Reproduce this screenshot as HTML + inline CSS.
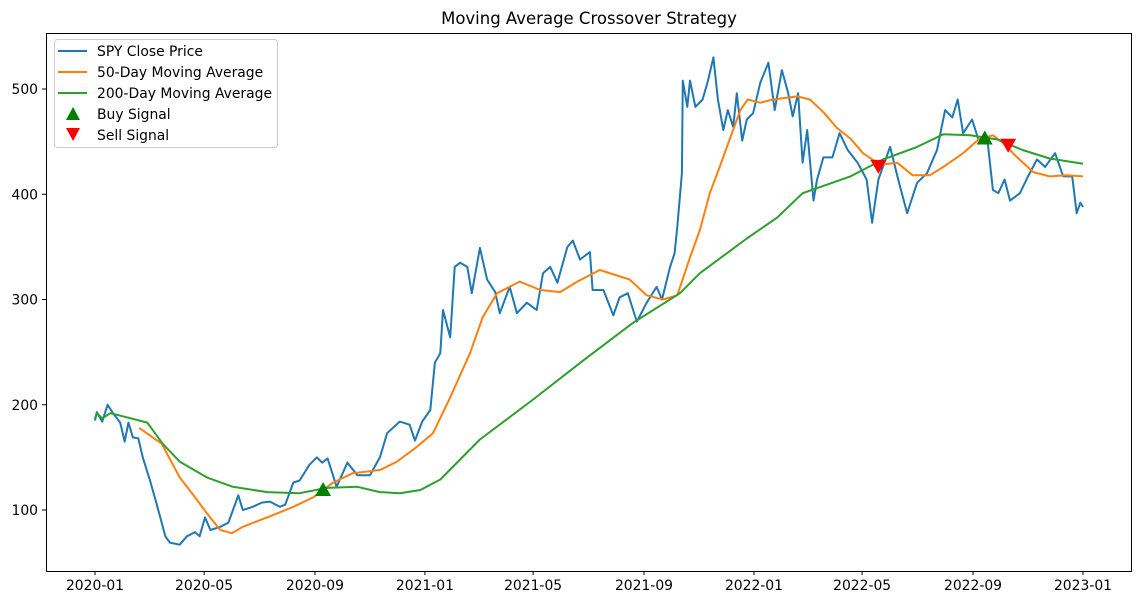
<!DOCTYPE html>
<html><head><meta charset="utf-8"><style>
body{margin:0;background:#fff;}
svg{display:block;font-family:"DejaVu Sans","Liberation Sans",sans-serif;}
</style></head><body>
<svg id="chart" width="1141" height="605" xmlns="http://www.w3.org/2000/svg">
<rect width="1141" height="605" fill="#fff"/>
<text x="589" y="24" font-size="16.5" text-anchor="middle">Moving Average Crossover Strategy</text>
<g id="plot"></g>
<rect x="46.5" y="33.5" width="1085" height="538" fill="none" stroke="#000" stroke-width="1"/>
<g id="axes"></g>
<g>
<rect x="54.5" y="39.5" width="223" height="108" rx="3" fill="#fff" fill-opacity="0.8" stroke="#ccc"/>
<g><line x1="58" y1="51" x2="87" y2="51" stroke="#1f77b4" stroke-width="2"/><text x="97" y="56" font-size="13.9">SPY Close Price</text></g>
<g><line x1="58" y1="72" x2="87" y2="72" stroke="#ff7f0e" stroke-width="2"/><text x="97" y="77" font-size="13.9">50-Day Moving Average</text></g>
<g><line x1="58" y1="93" x2="87" y2="93" stroke="#2ca02c" stroke-width="2"/><text x="97" y="98" font-size="13.9">200-Day Moving Average</text></g>
<g><polygon points="73,107 80,120 66,120" fill="#008000"/><text x="97" y="119" font-size="13.9">Buy Signal</text></g>
<g><polygon points="66,128 80,128 73,141" fill="#ff0000"/><text x="97" y="140" font-size="13.9">Sell Signal</text></g>
</g>
</svg>
<script>
const priceDays=[0,2,8,14,20,28,33,37,42,48,53,61,67,74,78,83,94,102,111,116,122,128,139,148,159,164,175,185,194,205,211,220,227,238,246,252,258,268,280,291,305,316,324,338,349,355,363,372,377,383,386,394,399,405,413,418,427,435,444,449,460,468,479,490,497,505,513,524,530,538,549,552,564,575,582,591,601,612,623,629,638,643,646,651,652,657,660,666,674,680,686,691,697,702,708,712,718,723,730,738,747,754,762,769,774,780,785,790,797,801,808,818,826,835,846,856,862,869,882,891,901,912,923,934,943,951,957,963,973,980,990,996,1002,1009,1015,1026,1035,1045,1054,1065,1074,1084,1089,1093,1096];
const priceValues=[185,193,184,200,192,183,165,183,169,168,150,128,110,88,75,69,67,75,79,75,93,81,84,88,114,100,103,107,108,103,105,126,128,143,150,145,149,122,145,133,133,150,173,184,181,166,184,195,240,249,290,264,331,335,331,306,349,319,307,287,312,287,297,290,325,331,316,350,356,338,345,309,309,285,302,306,279,297,312,300,331,344,369,420,508,483,508,483,490,508,530,490,461,480,464,496,451,471,477,506,525,480,518,496,474,496,430,461,394,414,435,435,458,442,430,414,373,414,445,414,382,411,420,442,480,473,490,458,471,452,452,404,401,414,394,401,417,433,426,439,417,417,382,392,388];
const ma50Days=[49,74,94,111,124,139,152,164,191,220,242,264,286,316,335,357,375,394,416,430,446,471,494,516,535,560,593,612,630,646,660,671,682,693,704,716,724,738,752,779,793,808,823,838,852,871,890,907,926,941,963,980,996,1007,1023,1041,1059,1078,1096];
const ma50Values=[178,163,131,112,97,81,78,84,93,103,112,126,135,138,146,160,173,207,249,283,306,317,309,307,317,328,319,304,300,304,340,366,401,426,452,480,490,487,490,493,490,478,463,453,439,428,430,418,418,426,439,452,456,449,435,421,417,418,417];
const ma200Days=[0,2,8,17,31,58,75,94,124,153,191,227,257,291,316,338,361,383,427,486,546,597,649,671,723,757,785,838,874,912,941,971,1001,1029,1059,1096];
const ma200Values=[187,192,187,192,189,183,163,146,131,122,117,116,121,122,117,116,119,129,167,205,245,278,306,325,358,378,401,417,433,445,457,456,452,442,434,429];
const buyDays=[253,987];
const buyValues=[119,453];
const sellDays=[869,1013];
const sellValues=[427,447];
const yTicks=[100,200,300,400,500];
const xTickLabels=["2020-01","2020-05","2020-09","2021-01","2021-05","2021-09","2022-01","2022-05","2022-09","2023-01"];
const xTickDays=[0,121,244,366,486,609,731,851,974,1096];

const NS="http://www.w3.org/2000/svg";
function xs(d){return 95+d*(988/1096);}
function ys(v){return 510-(v-100)*1.0525;}
function mk(tag,attrs,parent){const e=document.createElementNS(NS,tag);for(const k in attrs)e.setAttribute(k,attrs[k]);parent.appendChild(e);return e;}
const plot=document.getElementById('plot'),axes=document.getElementById('axes');
function line(days,vals,color,name){
  const p=mk('polyline',{points:days.map((d,i)=>xs(d).toFixed(1)+','+ys(vals[i]).toFixed(1)).join(' '),fill:'none',stroke:color,'stroke-width':2,'stroke-linejoin':'round'},plot);
  
  
}
line(priceDays,priceValues,'#1f77b4','price-line');
line(ma50Days,ma50Values,'#ff7f0e','ma50-line');
line(ma200Days,ma200Values,'#2ca02c','ma200-line');
buyDays.forEach((d,i)=>{const x=xs(d),y=ys(buyValues[i]);
  const t=mk('polygon',{points:`${x},${y-8} ${x+8},${y+6} ${x-8},${y+6}`,fill:'#008000'},plot);
  
  });
sellDays.forEach((d,i)=>{const x=xs(d),y=ys(sellValues[i]);
  const t=mk('polygon',{points:`${x-8},${y-6} ${x+8},${y-6} ${x},${y+8}`,fill:'#ff0000'},plot);
  
  });
yTicks.forEach(v=>{const y=ys(v);
  const l=mk('line',{x1:42,x2:46,y1:y,y2:y,stroke:'#000'},axes);
  
  
  const t=mk('text',{x:38,y:y+5,'font-size':13.9,'text-anchor':'end'},axes);t.textContent=v;
  
  });
xTickDays.forEach((d,i)=>{const x=xs(d);
  const l=mk('line',{x1:x,x2:x,y1:571,y2:575,stroke:'#000'},axes);
  
  
  const t=mk('text',{x:x,y:590,'font-size':13.9,'text-anchor':'middle'},axes);t.textContent=xTickLabels[i];
  
  });
</script>
</body></html>
